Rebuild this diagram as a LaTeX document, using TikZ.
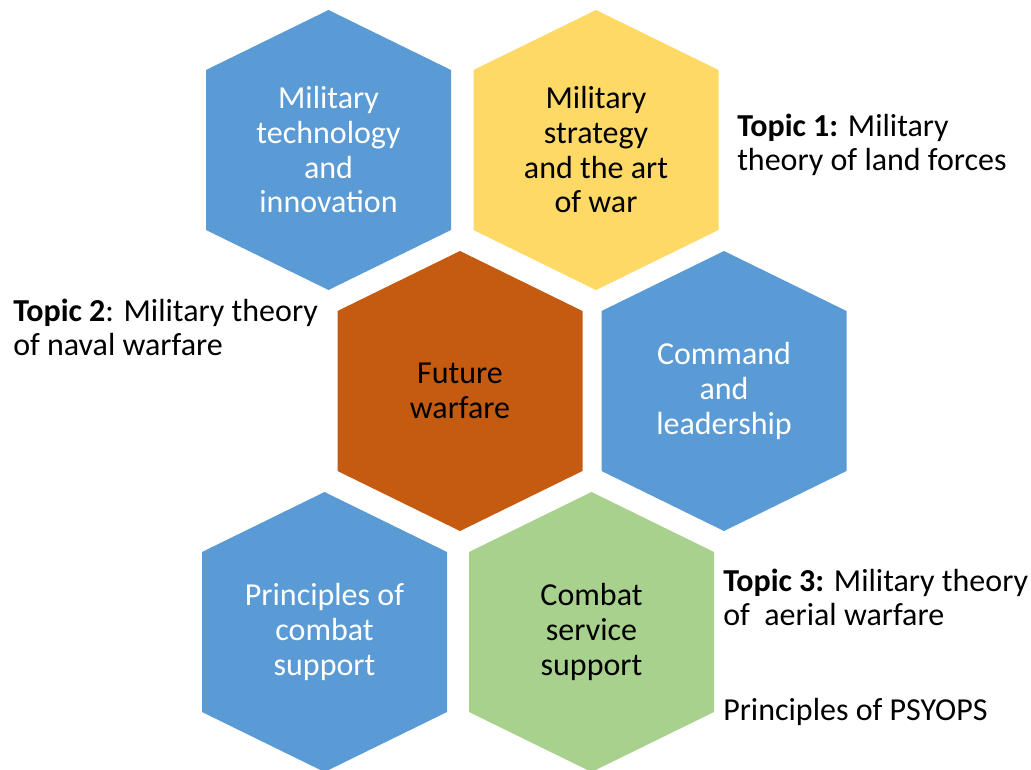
\documentclass[tikz,border=0pt]{standalone}
\usepackage{fontspec}
\setmainfont{Carlito}
\usepackage{tikz}

\definecolor{hexblue}{RGB}{91,155,213}
\definecolor{hexyellow}{RGB}{255,217,102}
\definecolor{hexbrown}{RGB}{197,90,17}
\definecolor{hexgreen}{RGB}{169,209,142}

\newcommand{\hexpath}{(0,-140) -- (122.5,-80) -- (122.5,80) -- (0,140) -- (-122.5,80) -- (-122.5,-80) -- cycle}

\tikzset{
  hextext/.style={inner sep=0.75pt, align=center, font=\fontsize{24}{26}\selectfont},
  sidetext/.style={anchor=west, inner sep=0.75pt, align=left, font=\fontsize{24}{25.6}\selectfont}
}

\begin{document}
\begin{tikzpicture}[x=0.75pt,y=0.75pt,yscale=-1,xscale=1]
\useasboundingbox (0,0) rectangle (1031,770);
% Hexagons
\fill [hexblue, shift={(328.5,150)}] \hexpath;
\fill [hexyellow, shift={(596,150)}] \hexpath;
\fill [hexbrown, shift={(460,391)}] \hexpath;
\fill [hexblue, shift={(724,391)}] \hexpath;
\fill [hexblue, shift={(324.5,632)}] \hexpath;
\fill [hexgreen, shift={(591.5,632)}] \hexpath;
% Text Node
\draw (328.5,150) node (tech) [hextext, text=white] {Military\\technology\\and\\innovation};
% Text Node
\draw (596,150) node (strategy) [hextext] {Military\\strategy\\and the art\\of war};
% Text Node
\draw (460,391) node (future) [hextext] {Future\\warfare};
% Text Node
\draw (724,391) node (command) [hextext, text=white] {Command\\and\\leadership};
% Text Node
\draw (324.5,632) node (combat) [hextext, text=white] {Principles of\\combat\\support};
% Text Node
\draw (591.5,632) node (service) [hextext] {Combat\\service\\support};
% Text Node
\draw (736,145) node (topicone) [sidetext] {\textbf{Topic 1:} Military\\theory of land forces};
% Text Node
\draw (12,327) node (topictwo) [sidetext] {\textbf{Topic 2}: Military theory\\of naval warfare};
% Text Node
\draw (722,597) node (topicthree) [sidetext] {\textbf{Topic 3:} Military theory\\of~~aerial warfare};
% Text Node
\draw (722,712) node (psyops) [sidetext] {Principles of PSYOPS};
\end{tikzpicture}
\end{document}
